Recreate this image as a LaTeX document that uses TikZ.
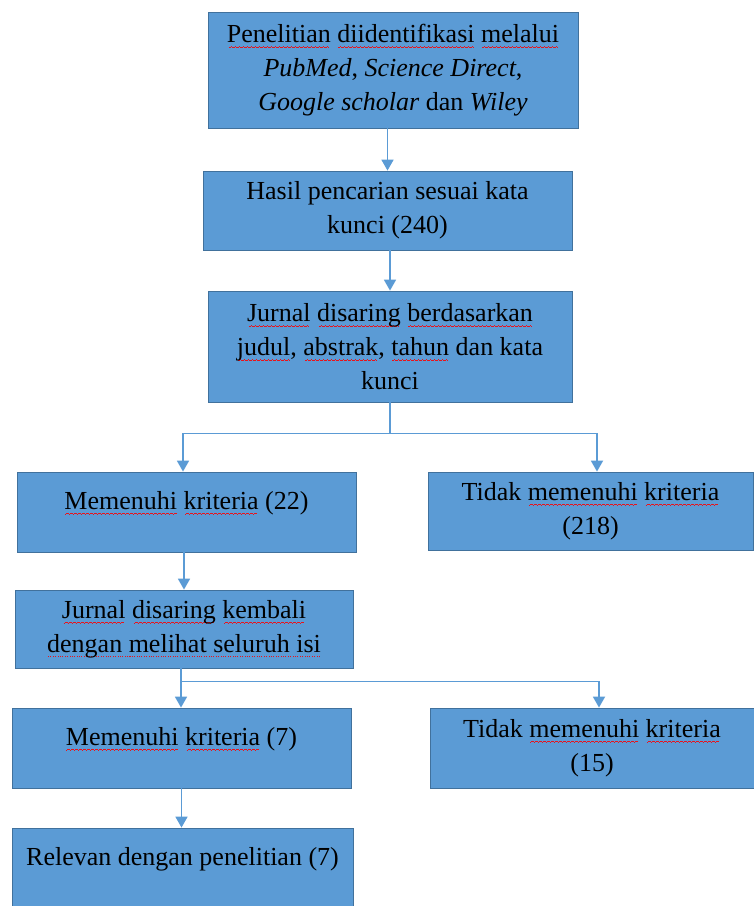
\documentclass[tikz,border=0pt]{standalone}
\usepackage{fontspec}
\setmainfont{Liberation Serif}
\usetikzlibrary{arrows.meta, positioning, calc}

\definecolor{boxfill}{HTML}{5B9BD5}
\definecolor{boxline}{HTML}{41719C}
\definecolor{flowline}{HTML}{5B9BD5}
\definecolor{marks}{HTML}{E8131B}

\newsavebox{\markbox}
% wavy and dotted marks under words, drawn from small rules
\newcommand{\wavebit}{\hbox{\rule[-0.7pt]{1pt}{0.8pt}\rule[0pt]{1pt}{0.8pt}\rule[0.7pt]{1pt}{0.8pt}\rule[0pt]{1pt}{0.8pt}}}
\newcommand{\spell}[1]{\sbox{\markbox}{#1}\rlap{\lower5pt\hbox to\wd\markbox{\color{marks}\cleaders\wavebit\hfill}}\usebox{\markbox}}
\newcommand{\gram}[1]{\sbox{\markbox}{#1}\rlap{\lower5pt\hbox to\wd\markbox{\color{marks}\cleaders\hbox{\kern0.7pt\rule{1pt}{1pt}\kern0.7pt}\hfill}}\usebox{\markbox}}

\begin{document}
\begin{tikzpicture}[
  x=1pt, y=-1pt,
  font=\fontsize{26}{34}\selectfont,
  box/.style={draw=boxline, line width=0.8pt, fill=boxfill, inner sep=0pt, align=center},
  single/.style={box, text height=18pt, text depth=24pt},
  link/.style={draw=flowline, line width=1.8pt},
  arrow/.style={link, -{Triangle[length=11pt, width=12pt]}}
  ]
  \useasboundingbox (0,0) rectangle (754,906);
  % search and first screening
  \node[box, minimum width=370pt, minimum height=116pt] (search) at (393,70)
    {\spell{Penelitian} \spell{diidentifikasi} \spell{melalui}\\
     \textit{PubMed}, \textit{Science Direct},\\
     \textit{Google scholar} dan \textit{Wiley}};
  \node[box, minimum width=369pt, minimum height=79pt] (hasil) at (387.5,210.5)
    {Hasil pencarian sesuai kata\\ kunci (240)};
  \node[box, minimum width=364pt, minimum height=111pt] (saring) at (390,346.5)
    {\spell{Jurnal} \spell{disaring} \spell{berdasarkan}\\
     \spell{judul}, \spell{abstrak}, \spell{tahun} dan kata\\ kunci};
  \node[single, minimum width=339pt, minimum height=80pt] (ok22) at (186.5,512)
    {\spell{Memenuhi} \spell{kriteria} (22)};
  \node[box, minimum width=325pt, minimum height=78pt] (no218) at (590.5,511)
    {Tidak \spell{memenuhi} \spell{kriteria}\\ (218)};
  % second screening
  \node[box, minimum width=338pt, minimum height=78pt] (kembali) at (184,629)
    {\spell{Jurnal} \spell{disaring} \spell{kembali}\\ \gram{dengan melihat seluruh isi}};
  \node[single, minimum width=339pt, minimum height=80pt] (ok7) at (181.5,748)
    {\spell{Memenuhi} \spell{kriteria} (7)};
  \node[box, minimum width=324pt, minimum height=80pt] (no15) at (592,748)
    {Tidak \spell{memenuhi} \spell{kriteria}\\ (15)};
  \node[single, minimum width=341pt, minimum height=80pt] (relevan) at (182.5,868)
    {Relevan dengan penelitian (7)};
  % connectors
  \draw[arrow] (search.south -| hasil.north) -- (hasil.north);
  \draw[arrow] (saring.north |- hasil.south) -- (saring.north);
  \coordinate (s1) at ($(saring.south)+(0,31)$);
  \draw[link] (saring.south) -- (s1);
  \draw[arrow] (s1) -| ([xshift=-3.5pt]ok22.north);
  \draw[arrow] (s1) -| ([xshift=6.5pt]no218.north);
  \draw[arrow] (kembali.north |- ok22.south) -- (kembali.north);
  \coordinate (s2) at ($(kembali.south)+(-3,13)$);
  \draw[link] (kembali.south -| s2) -- (s2);
  \draw[arrow] (s2) -- (s2 |- ok7.north);
  \draw[arrow] (s2) -| ([xshift=7pt]no15.north);
  \draw[arrow] (ok7.south) -- (ok7.south |- relevan.north);
\end{tikzpicture}
\end{document}
